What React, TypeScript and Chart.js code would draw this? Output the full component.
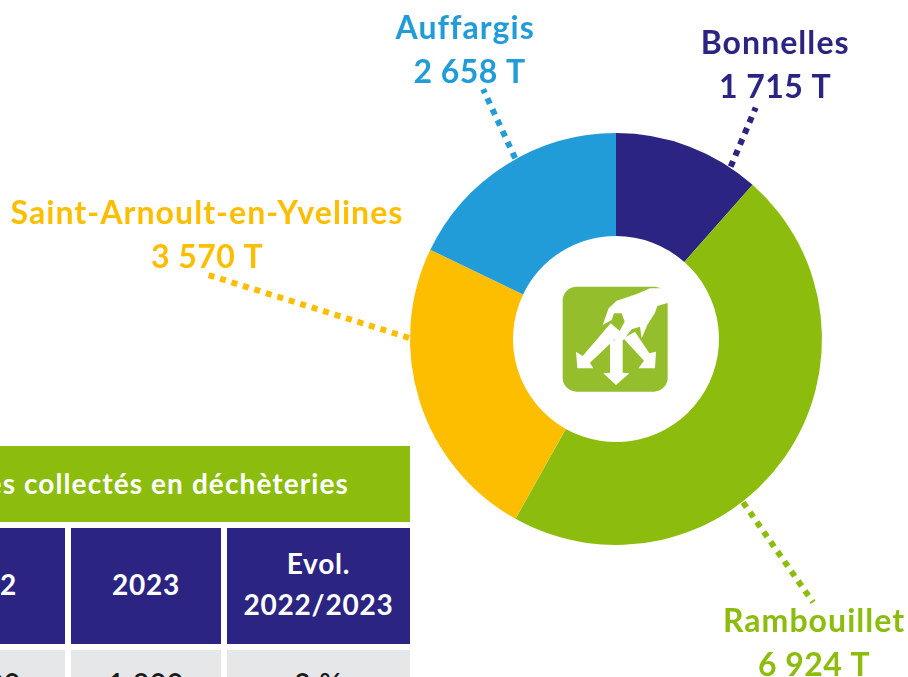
import React, { useEffect, useRef } from "react";
import { Chart, registerables } from "chart.js";

Chart.register(...registerables);

const communes = ["Bonnelles", "Rambouillet", "Saint-Arnoult-en-Yvelines", "Auffargis"];
const tonnages = [1715, 6924, 3570, 2658];
const tonnageLabels = ["1 715 T", "6 924 T", "3 570 T", "2 658 T"];
const colours = ["#2C2482", "#8CBD0E", "#FDBE00", "#229CD8"];

// leader lines: where on the slice they start (fraction of its sweep), and how far they reach
const leaderFractions = [0.81, 0.6, 0.707, 0.547];
const leaderReach = [[25, -59], [70, 100], [-201, -63], [-32, -69]];
// centre of each two-line label, relative to the leader's outer end
const labelOffsets = [[19.5, -54], [1, 30], [-1, -51], [-18, -50]];
const valueNudges = [0, 0, 0, 4.5];

const tableTitle = "Tonnages collectés en déchèteries";
const headerCells = ["2022", "2023", "Evol.\n2022/2023"];
const firstRow = ["1 300", "1 300", "2 %"];

const FONT = "Lato, 'Noto Sans', sans-serif";

const labelPlugin = {
  id: "leaderLabels",
  afterDatasetsDraw(chart: any) {
    const ctx = chart.ctx;
    const arcs = chart.getDatasetMeta(0).data;
    arcs.forEach((arc: any, i: number) => {
      const { x, y, startAngle, endAngle, outerRadius } = arc.getProps(
        ["x", "y", "startAngle", "endAngle", "outerRadius"],
        true
      );
      const a = startAngle + (endAngle - startAngle) * leaderFractions[i];
      const sx = x + Math.cos(a) * (outerRadius + 1);
      const sy = y + Math.sin(a) * (outerRadius + 1);
      const ex = sx + leaderReach[i][0];
      const ey = sy + leaderReach[i][1];
      ctx.save();
      ctx.strokeStyle = colours[i];
      ctx.lineWidth = 6;
      ctx.setLineDash([6, 6]);
      ctx.beginPath();
      ctx.moveTo(sx, sy);
      ctx.lineTo(ex, ey);
      ctx.stroke();
      ctx.setLineDash([]);
      ctx.fillStyle = colours[i];
      ctx.font = `700 32px ${FONT}`;
      ctx.textAlign = "center";
      ctx.textBaseline = "alphabetic";
      const cx = ex + labelOffsets[i][0];
      const cy = ey + labelOffsets[i][1];
      (ctx as any).letterSpacing = "1.05px";
      ctx.fillText(communes[i], cx, cy);
      (ctx as any).letterSpacing = "0.45px";
      ctx.fillText(tonnageLabels[i], cx + valueNudges[i], cy + 44);
      ctx.restore();
    });
  },
};

const cell = (left: number, top: number, width: number, height: number, bg: string): React.CSSProperties => ({
  position: "absolute",
  left,
  top,
  width,
  height,
  background: bg,
  display: "flex",
  alignItems: "center",
  justifyContent: "center",
  textAlign: "center",
  fontFamily: FONT,
  fontWeight: 700,
  whiteSpace: "pre-line",
  boxSizing: "border-box",
});

export default function App() {
  const ref = useRef<HTMLCanvasElement>(null);
  useEffect(() => {
    const chart = new Chart(ref.current!, {
      type: "doughnut",
      data: {
        labels: communes,
        datasets: [{ data: tonnages, backgroundColor: colours, borderWidth: 0 }],
      },
      options: {
        animation: false,
        responsive: false,
        cutout: "50%",
        layout: { padding: { left: 410, right: 86, top: 133, bottom: 132 } },
        plugins: { legend: { display: false }, tooltip: { enabled: false } },
      },
      plugins: [labelPlugin],
    } as any);
    return () => chart.destroy();
  }, []);

  const xs = [[-99, 164], [71, 150], [227, 183]];
  return (
    <div style={{ position: "fixed", left: 0, top: 0, width: 908, height: 677, overflow: "hidden", background: "#fff" }}>
      <canvas ref={ref} width={908} height={677} style={{ position: "absolute", left: 0, top: 0, display: "block" }} />
      <svg width={150} height={140} viewBox="0 0 450 420" style={{ position: "absolute", left: 540, top: 270 }}>
        <rect x={68} y={50} width={315} height={315} rx={42} fill="#95BE2C" />
        <path
          fill="#fff"
          d="M385 66 L362 55 L330 55 L290 72 L230 92 L206 115 L188 165 L215 150 L222 130 L245 130 L254 155 L235 190 L222 212 L250 210 L275 178 L300 170 L305 205 L322 165 L345 128 L352 108 L385 98 Z"
        />
        <path fill="#fff" d="M212 160 L245 188 L150 278 L160 295 L112 295 L108 245 L128 258 Z" />
        <path fill="#fff" d="M250 205 L285 185 L328 250 L348 245 L345 295 L295 295 L312 272 Z" />
        <path fill="#fff" d="M210 215 L248 205 L248 308 L268 310 L228 345 L190 310 L210 308 Z" />
      </svg>
      <div style={{ ...cell(-80, 446, 490, 76, "#8CBD0E"), justifyContent: "flex-end", padding: "0 61px 3px 0", color: "#fff", fontSize: 28, letterSpacing: "1.1px", whiteSpace: "nowrap" }}>
        {tableTitle}
      </div>
      {headerCells.map((t, i) => (
        <div key={t} style={{ ...cell(xs[i][0], 528, xs[i][1], 116, "#2C2482"), color: "#fff", fontSize: 28, lineHeight: "41px", letterSpacing: "0.8px", paddingBottom: 4 }}>
          {t}
        </div>
      ))}
      {firstRow.map((t, i) => (
        <div key={i} style={{ ...cell(xs[i][0], 650, xs[i][1], 66, "#E6E7E8"), color: "#1a1a1a", fontSize: 28, fontWeight: 600, letterSpacing: "0.8px" }}>
          {t}
        </div>
      ))}
    </div>
  );
}
